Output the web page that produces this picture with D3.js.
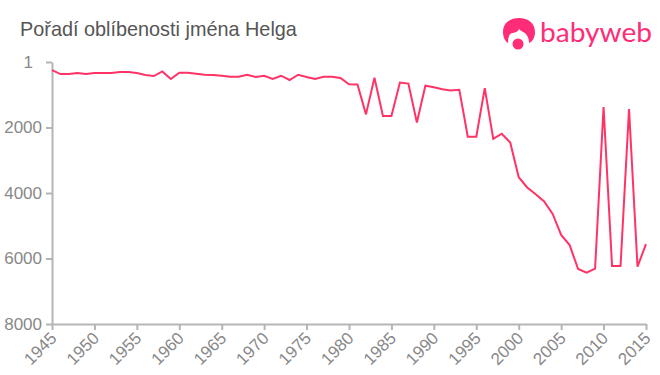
<!DOCTYPE html>
<html>
<head>
<meta charset="utf-8">
<script src="https://d3js.org/d3.v7.min.js"></script>
<style>
  html, body { margin: 0; padding: 0; background: #fff; }
  svg { display: block; }
  .axis path, .axis line { stroke: #b5b5b5; stroke-width: 2px; }
  .axis text { fill: #888; font-family: "Liberation Sans", Arial, sans-serif; font-size: 17px; }
</style>
</head>
<body>
<div id="chart"></div>
<script>
// data
var years = [
  1945, 1946, 1947, 1948, 1949, 1950, 1951, 1952, 1953, 1954,
  1955, 1956, 1957, 1958, 1959, 1960, 1961, 1962, 1963, 1964,
  1965, 1966, 1967, 1968, 1969, 1970, 1971, 1972, 1973, 1974,
  1975, 1976, 1977, 1978, 1979, 1980, 1981, 1982, 1983, 1984,
  1985, 1986, 1987, 1988, 1989, 1990, 1991, 1992, 1993, 1994,
  1995, 1996, 1997, 1998, 1999, 2000, 2001, 2002, 2003, 2004,
  2005, 2006, 2007, 2008, 2009, 2010, 2011, 2012, 2013, 2014, 2015
];
var ranks = [
  250, 370, 370, 340, 370, 340, 340, 340, 310, 310,
  340, 400, 430, 290, 520, 330, 330, 360, 390, 400,
  420, 450, 450, 390, 460, 420, 520, 420, 550, 390,
  460, 520, 450, 450, 490, 680, 690, 1600, 480, 1650,
  1650, 630, 660, 1850, 725, 770, 830, 870, 850, 2280,
  2280, 800, 2350, 2190, 2460, 3520, 3830, 4040, 4260, 4640,
  5280, 5590, 6320, 6430, 6310, 1380, 6230, 6230, 1440, 6250, 5560
];
var yearTicks = [1945, 1950, 1955, 1960, 1965, 1970, 1975, 1980, 1985, 1990, 1995, 2000, 2005, 2010, 2015];
var rankTicks = [1, 2000, 4000, 6000, 8000];

var svg = d3.select('#chart').append('svg').attr('width', 660).attr('height', 375);

// Scales
var xScale = d3.scaleLinear().domain([1945, 2015]).range([52, 646]);
var yScale = d3.scaleLinear().domain([1, 8000]).range([62, 324]);

// Title
svg.append('text')
  .attr('x', 20)
  .attr('y', 36)
  .attr('font-family', '"Liberation Sans", Arial, sans-serif')
  .attr('font-size', '19.85px')
  .attr('fill', '#555')
  .text('Pořadí oblíbenosti jména Helga');

// Axes
var xAxis = svg.append('g')
  .attr('class', 'axis')
  .attr('transform', 'translate(0,324)')
  .call(d3.axisBottom(xScale).tickValues(yearTicks).tickFormat(d3.format('d')).tickSize(6).tickSizeOuter(0));
xAxis.selectAll('text')
  .attr('text-anchor', 'end')
  .attr('x', 0)
  .attr('y', 0)
  .attr('dy', '0.35em')
  .attr('transform', 'translate(1,11) rotate(-45)');

// the "1" label sits further left than the others in the reference
svg.append('g')
  .attr('class', 'axis')
  .attr('transform', 'translate(52,0)')
  .call(d3.axisLeft(yScale).tickValues(rankTicks).tickFormat(d3.format('d')).tickSize(6).tickSizeOuter(0))
  .selectAll('text')
  .attr('x', function(d) { return d === 1 ? -19 : -10; });

// Line
var line = d3.line()
  .x(function(d, i) { return xScale(years[i]); })
  .y(function(d) { return yScale(d); });

svg.append('path')
  .datum(ranks)
  .attr('d', line)
  .attr('fill', 'none')
  .attr('stroke', '#ff3366')
  .attr('stroke-width', 2);

// Logo
var logo = svg.append('g').attr('fill', '#ff2d78');
logo.append('path')
  .attr('d', 'M503,32 C503,23 510,18 519,18 C528,18 535,23 535,32 C535,37 533,41 529,43 C529,38 527,34 523,32 C521,31 519,29 519,29 C518,32 514,33 512,33 C509,34 508,38 508,43 C505,41 503,37 503,32 Z');
logo.append('circle').attr('cx', 518).attr('cy', 44).attr('r', 7.5).attr('fill', '#fff');
logo.append('circle').attr('cx', 518).attr('cy', 44).attr('r', 5.5);
logo.append('text')
  .attr('x', 540)
  .attr('y', 42)
  .attr('font-family', 'Lato, "Open Sans", sans-serif')
  .attr('font-size', '26px')
  .attr('textLength', 112)
  .attr('lengthAdjust', 'spacingAndGlyphs')
  .text('babyweb');
</script>
</body>
</html>
